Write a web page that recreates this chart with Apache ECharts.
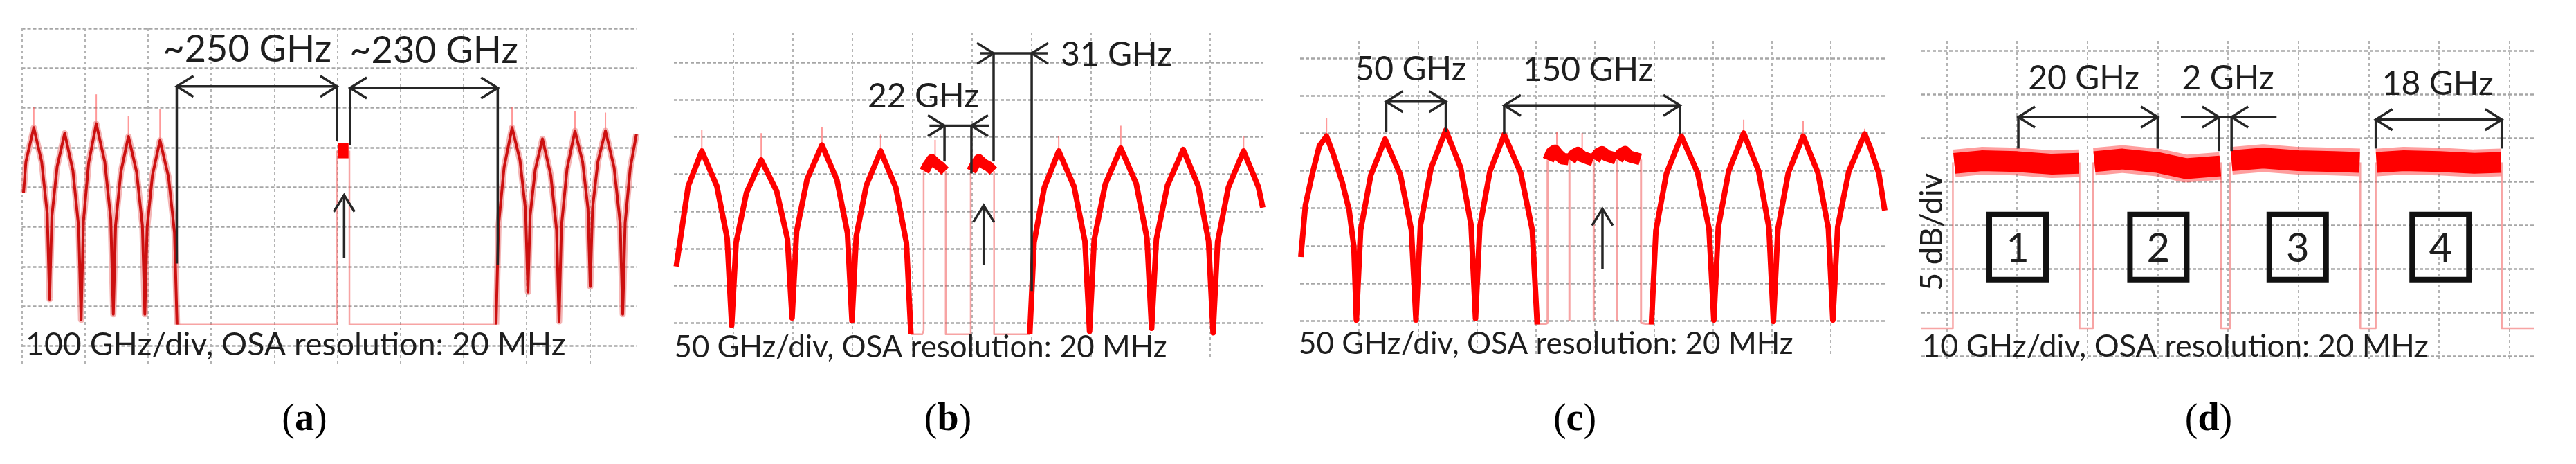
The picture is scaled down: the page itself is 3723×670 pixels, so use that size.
<!DOCTYPE html>
<html><head><meta charset="utf-8">
<script src="https://cdn.jsdelivr.net/npm/echarts@6/dist/echarts.min.js"></script>
<style>html,body{margin:0;padding:0;background:#fff}#c{width:3723px;height:670px}</style>
</head><body><div id="c"></div>
<script>
// ---------------- DATA (x in GHz, y in dB relative to a reference grid line) ----------------
// Panel (a): 100 GHz/div
const aTraceLeft = [[2.7,-20.7],[6.5,-16.8],[19,-12.5],[31.5,-16.8],[40.3,-23.3],[44,-34.1],[47.6,-23.7],[56,-17.4],[68,-13.2],[81,-17.9],[90.1,-25.0],[94,-36.7],[97.6,-24.4],[106,-16.9],[118,-12.0],[131.5,-16.8],[141,-24.0],[145,-36.0],[148.6,-24.8],[157,-18.1],[169,-13.6],[182,-18.1],[191.1,-24.8],[195,-36.0],[198.6,-25.1],[207,-18.5],[219,-14.1],[232.5,-18.7],[242,-25.7],[246,-37.3]];
const aTraceRight = [[751.6,-37.3],[755.4,-24.9],[764.3,-17.5],[776.9,-12.5],[789.5,-16.6],[798.3,-22.9],[802.1,-33.2],[805.5,-23.6],[813.6,-17.8],[825.1,-13.9],[838.3,-18.5],[847.5,-25.4],[851.4,-36.9],[855.2,-24.9],[864,-17.7],[876.6,-12.9],[888.7,-16.8],[897.2,-22.7],[900.8,-32.5],[904.4,-22.7],[912.9,-16.8],[924.9,-12.9],[938.6,-17.5],[948.2,-24.5],[952.3,-36.0],[956.1,-24.5],[964.2,-17.6],[974,-13.3]];
const aSignals = [[[500.5,-15.4],[517.8,-15.4]]];
const aFloor = [[[246,-37.3],[499.1,-37.3],[499.1,-15.4]],[[519.2,-15.4],[519.2,-37.3],[751.6,-37.3]]];
const aSpikes = [[19,-12.5,-9.9],[118,-12.0,-8.3],[169,-13.6,-11.0],[219,-14.1,-10.2],[776.9,-12.5,-9.9],[876.6,-12.9,-10.4],[924.9,-12.9,-10.6]];
const aBrackets = [
  {y:-7.3, line:[245.6,499.4], legs:[[245.6,-29.6],[499.4,-14.2]], heads:[[245.6,-1],[499.4,1]]},
  {y:-7.5, line:[520.3,754.2], legs:[[520.3,-14.7],[754.2,-29.8]], heads:[[520.3,-1],[754.2,1]]}
];
const aUpArrow = [510.8,-28.9,-21.0];
const aLabels = [['~250 GHz',357.2,-2.7],['~230 GHz',653,-2.8]];

// Panel (b): 50 GHz/div
const bTraceLeft = [[2.0,-27.4],[12,-16.6],[23.4,-11.9],[36,-16.6],[44.7,-23.6],[48.5,-35.3],[52.2,-24.2],[60.9,-17.5],[73.3,-13.1],[86.3,-17.3],[95.3,-23.7],[99.2,-34.3],[103,-22.7],[111.8,-15.7],[124.3,-11.1],[136.9,-15.8],[145.7,-22.9],[149.5,-34.7],[153.1,-23.3],[161.6,-16.5],[173.6,-11.9],[186.3,-16.8],[195.2,-24.2],[199,-36.5]];
const bTraceRight = [[298.8,-36.5],[302.4,-24.2],[311,-16.8],[323.1,-11.9],[336,-16.7],[345.1,-24.0],[349,-36.1],[352.9,-23.8],[362.1,-16.4],[375.2,-11.5],[388.2,-16.3],[397.2,-23.6],[401.1,-35.7],[405.1,-23.7],[414.4,-16.5],[427.6,-11.7],[440.2,-16.6],[448.9,-24.0],[452.7,-36.3],[456.5,-24.1],[465.5,-16.8],[478.3,-11.9],[490.7,-16.7],[494.4,-19.5]];
const bSignals = [[[210.3,-14.6],[213,-13.8],[216.5,-13.0],[220.5,-13.6],[224,-14.0],[227.6,-14.6]],[[249.8,-14.6],[252.5,-13.8],[256,-13.0],[260,-13.6],[264.5,-14.0],[268.2,-14.6]]];
const bFloor = [[[199,-36.5],[208.6,-36.5],[209.7,-36.0],[209.7,-14.6]],[[228.2,-14.6],[228.2,-36.5],[249.2,-36.5],[249.2,-14.6]],[[268.8,-14.6],[268.8,-36.5],[298.8,-36.5]]];
const bSpikes = [[23.4,-11.9,-9.1],[73.3,-13.1,-9.5],[124.3,-11.1,-8.7],[173.6,-11.9,-9.7],[219.3,-13.0,-10.4],[323.1,-11.9,-9.9],[375.2,-11.5,-8.5],[478.3,-11.9,-9.9]];
const bBrackets = [
  {y:1.2, line:[256.8,313.7], legs:[[268.4,-13.3],[300.4,-30.7]], heads:[[268.4,1],[300.4,-1]]},
  {y:-8.5, line:[214.6,264.9], legs:[[227.2,-13.3],[249.8,-14.9]], heads:[[227.2,1],[249.8,-1]]}
];
const bUpArrow = [260.1,-27.2,-19.2];
const bLabels = [['31 GHz',371.5,1.0],['22 GHz',209.4,-4.6]];

// Panel (c): 50 GHz/div
const cTraceLeft = [[0.6,-26.5],[4.5,-19.6],[10.4,-15.4],[16.3,-11.7],[22.4,-10.4],[27.9,-12.7],[35.8,-16.6],[41.6,-20.3],[45.6,-25.2],[47.7,-34.9],[51.3,-22.9],[59.9,-15.6],[72.0,-10.8],[85.1,-15.6],[94.3,-22.9],[98.2,-34.9],[102,-22.3],[110.9,-14.7],[123.5,-9.6],[136.1,-14.6],[144.9,-22.2],[148.7,-34.7],[152.3,-22.5],[160.9,-15.1],[173.0,-10.2],[187,-15.3],[196.8,-22.9],[201,-35.5]];
const cTraceRight = [[297.8,-35.5],[301.6,-23.0],[310.5,-15.4],[323.2,-10.4],[337,-15.3],[346.6,-22.7],[350.7,-34.9],[354.5,-22.5],[363.4,-15.0],[376,-10.0],[388.6,-15.0],[397.4,-22.6],[401.2,-35.1],[405,-22.8],[413.8,-15.3],[426.4,-10.4],[439,-15.3],[447.8,-22.7],[451.6,-34.9],[455.7,-22.5],[465.1,-15.1],[478.6,-10.1],[483.5,-12.0],[490.6,-15.4],[495.6,-20.3]];
const cSignals = [
  [[210.4,-13.6],[213,-12.6],[216,-12.3],[219,-12.9],[222.5,-13.4],[227.6,-13.5]],
  [[229,-13.6],[232,-12.9],[235.5,-12.6],[239,-13.1],[244,-13.4],[248.2,-13.6]],
  [[249.6,-13.5],[252.5,-12.8],[256,-12.5],[260,-13.0],[264,-13.2],[267.8,-13.4]],
  [[269.2,-13.5],[272,-12.8],[275.5,-12.5],[279,-13.1],[284,-13.3],[288.4,-13.5]]
];
const cFloor = [[[201,-35.5],[207.4,-35.5],[209.8,-35.3],[209.8,-13.6]],[[228.3,-13.5],[228.3,-35.0]],[[248.9,-13.5],[248.9,-35.0]],[[268.5,-13.5],[268.5,-35.0]],[[289,-13.5],[289,-35.3],[296,-35.5],[297.8,-35.5]]];
const cSpikes = [[22.4,-10.4,-8.0],[217.6,-12.4,-9.8],[239.1,-12.7,-10.0],[376,-10.0,-8.2],[426.4,-10.4,-8.4],[478.6,-10.1,-9.4]];
const cBrackets = [
  {y:-5.8, line:[73.0,123.5], legs:[[73.0,-9.8],[123.5,-9.8]], heads:[[73.0,-1],[123.5,1]]},
  {y:-6.3, line:[173.0,322.0], legs:[[173.0,-10.1],[322.0,-10.1]], heads:[[173.0,-1],[322.0,1]]}
];
const cUpArrow = [256.3,-28.1,-20.1];
const cLabels = [['50 GHz',93.8,-1.5],['150 GHz',244,-1.6]];

// Panel (d): 10 GHz/div, 5 dB/div
const dSignals = [
  [[1.1,-12.9],[5,-12.6],[10,-12.7],[15,-13.0],[18.8,-12.9]],
  [[21,-12.7],[25,-12.4],[30,-12.8],[34,-13.5],[38.9,-13.2]],
  [[40.5,-12.6],[45,-12.3],[50,-12.6],[55,-12.7],[58.7,-12.8]],
  [[61.1,-12.8],[65,-12.6],[70,-12.7],[75,-12.9],[78.8,-12.8]]
];
const dFloor = [[[-3.57,-31.8],[0.9,-31.8],[0.9,-12.8]],[[18.9,-12.8],[18.9,-31.8],[20.8,-31.8],[20.8,-12.8]],[[39.0,-12.8],[39.0,-31.8],[40.3,-31.8],[40.3,-12.8]],[[58.8,-12.8],[58.8,-31.8],[61.0,-31.8],[61.0,-12.8]],[[78.9,-12.8],[78.9,-31.8],[83.5,-31.8]]];
const dBrackets = [
  {y:-7.6, line:[10.2,30.0], legs:[[10.2,-11.2],[30.0,-11.2]], heads:[[10.2,-1],[30.0,1]]},
  {y:-7.6, line:[33.3,46.9], legs:[[38.7,-11.5],[40.5,-11.5]], heads:[[38.7,1],[40.5,-1]]},
  {y:-7.9, line:[61.0,78.9], legs:[[61.0,-11.2],[78.9,-11.2]], heads:[[61.0,-1],[78.9,1]]}
];
const dLabels = [['20 GHz',19.5,-3.2],['2 GHz',40.0,-3.2],['18 GHz',69.8,-3.8]];
const dBoxes = [['1',10.1,-22.5],['2',30.1,-22.5],['3',49.9,-22.5],['4',70.2,-22.5]];

const captions = ['100 GHz/div, OSA resolution: 20 MHz','50 GHz/div, OSA resolution: 20 MHz','50 GHz/div, OSA resolution: 20 MHz','10 GHz/div, OSA resolution: 20 MHz'];
const panelLetters = ['a','b','c','d'];
const yAxisTitle = '5 dB/div';

// ---------------- CHART ----------------
const chart = echarts.init(document.getElementById('c'), null, {renderer:'canvas', width:3723, height:670});

const gridBoxes = [
  {left:31.5, top:41, width:888.5, height:485},
  {left:974, top:47, width:851, height:469},
  {left:1879, top:59, width:846, height:455},
  {left:2777, top:59, width:886, height:463}
];
const xCfg = [{min:0,max:974.2,step:100,sMin:true},{min:0,max:494.4,step:50,sMin:false},{min:0,max:496.2,step:50,sMin:false},{min:-3.57,max:83.55,step:10,sMin:false}];
const yCfg = [{min:-42.3,max:0,sMax:true},{min:-39.6,max:4.0,sMax:false},{min:-39.7,max:2.3,sMax:false},{min:-35.6,max:1.13,sMax:false}];

const xAxes = xCfg.map((c,i)=>({type:'value',gridIndex:i,min:c.min,max:c.max,minInterval:c.step,maxInterval:c.step,
  axisLine:{show:false},axisTick:{show:false},axisLabel:{show:false},
  splitLine:{show:true,showMinLine:c.sMin,showMaxLine:false,lineStyle:{color:'#b4b4b4',width:2,type:[4,4]}}}));
const yAxes = yCfg.map((c,i)=>({type:'value',gridIndex:i,min:c.min,max:c.max,minInterval:5,maxInterval:5,
  axisLine:{show:false},axisTick:{show:false},axisLabel:{show:false},
  splitLine:{show:true,showMinLine:false,showMaxLine:c.sMax,lineStyle:{color:'#a6a6a6',width:2.5,type:[5,3]}}}));

const series = [];
function addLine(g, data, color, width, z){
  series.push({type:'line',xAxisIndex:g,yAxisIndex:g,data:data,showSymbol:false,symbol:'none',silent:true,animation:false,
    lineStyle:{color:color,width:width,join:'round',cap:'butt'},z:z});
}
const thin = 'rgba(240,90,90,0.55)';
const spikeCol = 'rgba(255,70,70,0.55)';
// (a)
aFloor.forEach(s=>addLine(0,s,thin,2.5,2));
aSpikes.forEach(s=>addLine(0,[[s[0],s[1]],[s[0],s[2]]],spikeCol,2,2));
[aTraceLeft,aTraceRight].forEach(s=>{addLine(0,s,'rgba(235,120,120,0.55)',9,3);addLine(0,s,'#cc1010',4,4);});
aSignals.forEach(s=>addLine(0,s,'#ff0000',22,4));
// (b)
bFloor.forEach(s=>addLine(1,s,thin,2.5,2));
bSpikes.forEach(s=>addLine(1,[[s[0],s[1]],[s[0],s[2]]],spikeCol,2,2));
[bTraceLeft,bTraceRight].forEach(s=>addLine(1,s,'#ff0000',8,4));
bSignals.forEach(s=>addLine(1,s,'#ff0000',15,4));
// (c)
cFloor.forEach(s=>addLine(2,s,thin,3,2));
cSpikes.forEach(s=>addLine(2,[[s[0],s[1]],[s[0],s[2]]],spikeCol,2,2));
[cTraceLeft,cTraceRight].forEach(s=>addLine(2,s,'#ff0000',8,4));
cSignals.forEach(s=>addLine(2,s,'#ff0000',17,4));
// (d)
dFloor.forEach(s=>addLine(3,s,thin,2.5,2));
dSignals.forEach(s=>{addLine(3,s,'rgba(255,40,40,0.45)',40,3);addLine(3,s,'#ff0000',30,4);});

chart.setOption({
  backgroundColor:'#ffffff',
  animation:false,
  grid: gridBoxes.map(b=>Object.assign({containLabel:false},b)),
  xAxis: xAxes, yAxis: yAxes, series: series
});

// ---------------- ANNOTATIONS (placed through the axes' scales) ----------------
const P = (g,x,y)=>chart.convertToPixel({gridIndex:g},[x,y]);
const ctx = document.createElement('canvas').getContext('2d');
function fit(text, family, weight, target){ ctx.font = weight+' 100px '+family; return 100*target/ctx.measureText(text).width; }
const ink = '#262626';
const G = [];
function seg(p1,p2,w){ G.push({type:'line',shape:{x1:p1[0],y1:p1[1],x2:p2[0],y2:p2[1]},style:{stroke:ink,lineWidth:w||3.5},z:50}); }
function head(p,dir){ const L=24,H=15; G.push({type:'polyline',shape:{points:[[p[0]-dir*L,p[1]-H],[p[0],p[1]],[p[0]-dir*L,p[1]+H]]},style:{stroke:ink,lineWidth:3.5,fill:null},z:50}); }
function brackets(g, list){
  list.forEach(b=>{
    const y = b.y;
    seg(P(g,b.line[0],y),P(g,b.line[1],y));
    b.legs.forEach(l=>seg(P(g,l[0],y),P(g,l[0],l[1])));
    b.heads.forEach(h=>head(P(g,h[0],y),h[1]));
  });
}
function upArrow(g,a){
  const b=P(g,a[0],a[1]), t=P(g,a[0],a[2]);
  seg(b,t);
  G.push({type:'polyline',shape:{points:[[t[0]-15,t[1]+24],[t[0],t[1]],[t[0]+15,t[1]+24]]},style:{stroke:ink,lineWidth:3.5,fill:null},z:50});
}
const annFont = 'Lato';
function labels(g,list,size){
  list.forEach(l=>{ const p=P(g,l[1],l[2]);
    G.push({type:'text',x:p[0],y:p[1],z:60,style:{text:l[0],fontFamily:annFont,fontSize:size,fill:'#1e1e1e',align:'center',verticalAlign:'middle'}});});
}
brackets(0,aBrackets); brackets(1,bBrackets); brackets(2,cBrackets); brackets(3,dBrackets);
upArrow(0,aUpArrow); upArrow(1,bUpArrow); upArrow(2,cUpArrow);
labels(0,aLabels,54); labels(1,bLabels,48); labels(2,cLabels,48); labels(3,dLabels,48);

// boxes in (d)
dBoxes.forEach(b=>{ const p=P(3,b[1],b[2]);
  G.push({type:'rect',shape:{x:p[0]-41,y:p[1]-47,width:82,height:94},style:{stroke:'#111',lineWidth:8,fill:null},z:55});
  G.push({type:'text',x:p[0],y:p[1]+2,z:60,style:{text:b[0],fontFamily:annFont,fontSize:58,fill:'#1e1e1e',align:'center',verticalAlign:'middle'}});
});

// captions
const capPos = [[37,498,781],[974.5,502,712],[1877,497,715],[2778,500,732]];
captions.forEach((t,i)=>{ const c=capPos[i]; const fs=fit(t,annFont,'normal',c[2]);
  G.push({type:'text',x:c[0],y:c[1],z:60,style:{text:t,fontFamily:annFont,fontSize:fs,fill:'#1e1e1e',align:'left',verticalAlign:'middle'}});
});
// y-axis title of (d)
{ const fs = fit(yAxisTitle,annFont,'normal',170);
  G.push({type:'text',x:2792,y:335,rotation:Math.PI/2,z:60,style:{text:yAxisTitle,fontFamily:annFont,fontSize:fs,fill:'#1e1e1e',align:'center',verticalAlign:'middle'}}); }
// panel letters
const letterX = [440,1370,2276,3192];
panelLetters.forEach((l,i)=>{
  G.push({type:'text',x:letterX[i],y:607,z:60,style:{text:'{p|(}{b|'+l+'}{p|)}',align:'center',verticalAlign:'middle',
    rich:{p:{fontFamily:'Liberation Serif',fontSize:56,fill:'#000'},b:{fontFamily:'Liberation Serif',fontSize:56,fontWeight:'bold',fill:'#000'}}}});
});
chart.setOption({graphic:G});
</script></body></html>
